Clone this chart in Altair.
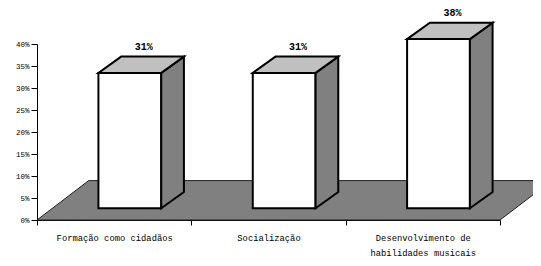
import altair as alt
import pandas as pd

# ---- data ----
categories = ["Formação como cidadãos", "Socialização", "Desenvolvimento de habilidades musicais"]
category_lines = [["Formação como cidadãos"], ["Socialização"], ["Desenvolvimento de", "habilidades musicais"]]
values = [30.77, 30.77, 38.46]          # percent
value_labels = ["31%", "31%", "38%"]
y_ticks = [0, 5, 10, 15, 20, 25, 30, 35, 40]

# ---- pseudo-3D style constants (data units) ----
BAR_LEFT = 0.398    # front face left offset inside a category
BAR_W = 0.407       # front face width
DX = 0.147          # bar depth (x)
DY = 3.71           # bar depth (y, %)
BASE = 2.66         # bar base lift above floor front edge
FLOOR_DX = 0.335
FLOOR_DY = 8.95
N = len(categories)

front, top, side, labels = [], [], [], []
for i, (c, v, t) in enumerate(zip(categories, values, value_labels)):
    L = i + BAR_LEFT
    R = L + BAR_W
    front.append(dict(bar=c, x=L, x2=R, y=BASE, y2=BASE + v))
    top.append(dict(bar=c, y=BASE + v, x=L, x2=R))
    top.append(dict(bar=c, y=BASE + v + DY, x=L + DX, x2=R + DX))
    side.append(dict(bar=c, x=R, y=BASE, y2=BASE + v))
    side.append(dict(bar=c, x=R + DX, y=BASE + DY, y2=BASE + v + DY))
    labels.append(dict(bar=c, x=L + BAR_W / 2 + 0.09, y=BASE + v + DY, text=t))

floor = pd.DataFrame([
    dict(g="floor", y=0, x=0, x2=N),
    dict(g="floor", y=FLOOR_DY, x=FLOOR_DX, x2=N + FLOOR_DX),
])

xscale = alt.Scale(domain=[0, N], nice=False, zero=False)
yscale = alt.Scale(domain=[0, 40], nice=False, zero=True)

def lit(lines):
    if len(lines) == 1:
        return "'" + lines[0] + "'"
    return "[" + ",".join("'" + l + "'" for l in lines) + "]"

label_expr = "".join(f"datum.value == {i + 0.5} ? {lit(l)} : " for i, l in enumerate(category_lines)) + "''"
x_values = sorted(set([float(i) for i in range(N + 1)] + [i + 0.5 for i in range(N)]))

xaxis = alt.Axis(
    title=None, values=x_values, labelExpr=label_expr, grid=False,
    domainColor="black", tickColor="black", tickSize=5,
    tickOpacity={"condition": {"test": "datum.value % 1 === 0", "value": 1}, "value": 0},
    labelFont="Liberation Mono", labelFontSize=8.8, labelColor="black",
    labelPadding=8, labelLineHeight=15.5, labelOverlap=False, labelFlush=False,
)
yaxis = alt.Axis(
    title=None, values=y_ticks, labelExpr="datum.value + '%'", grid=False,
    domainColor="black", tickColor="black", tickSize=6,
    labelFont="Liberation Mono", labelFontSize=7.5, labelColor="black", labelPadding=2,
)

floor_layer = alt.Chart(floor).mark_area(
    orient="horizontal", color="#808080", stroke="#202020", strokeWidth=1
).encode(
    y=alt.Y("y:Q", scale=yscale, axis=yaxis),
    x=alt.X("x:Q", scale=xscale, axis=xaxis),
    x2="x2:Q",
    detail="g:N",
)

front_layer = alt.Chart(pd.DataFrame(front)).mark_rect(
    color="white", stroke="black", strokeWidth=2, strokeJoin="miter"
).encode(
    x=alt.X("x:Q", scale=xscale, axis=xaxis), x2="x2:Q",
    y=alt.Y("y:Q", scale=yscale, axis=yaxis), y2="y2:Q",
)

top_layer = alt.Chart(pd.DataFrame(top)).mark_area(
    orient="horizontal", color="#C0C0C0", stroke="black", strokeWidth=2, strokeJoin="miter"
).encode(
    y=alt.Y("y:Q", scale=yscale, axis=yaxis),
    x=alt.X("x:Q", scale=xscale, axis=xaxis), x2="x2:Q",
    detail="bar:N",
)

side_layer = alt.Chart(pd.DataFrame(side)).mark_area(
    orient="vertical", color="#808080", stroke="black", strokeWidth=2, strokeJoin="miter"
).encode(
    x=alt.X("x:Q", scale=xscale, axis=xaxis),
    y=alt.Y("y:Q", scale=yscale, axis=yaxis), y2="y2:Q",
    detail="bar:N",
)

label_layer = alt.Chart(pd.DataFrame(labels)).mark_text(
    font="Liberation Mono", fontSize=10, fontWeight="bold", color="black",
    baseline="alphabetic", align="center", dy=-7
).encode(
    x=alt.X("x:Q", scale=xscale, axis=xaxis),
    y=alt.Y("y:Q", scale=yscale, axis=yaxis),
    text="text:N",
)

chart = alt.layer(floor_layer, front_layer, side_layer, top_layer, label_layer).properties(
    width=463, height=176,
    autosize=alt.AutoSizeParams(type="none"),
    padding={"left": 29, "top": 36, "right": 33, "bottom": 38},
).configure(
    background="white",
    view=alt.ViewConfig(stroke="transparent", strokeWidth=0),
)

chart.save("out.html", embed_options={"renderer": "svg", "actions": False})
